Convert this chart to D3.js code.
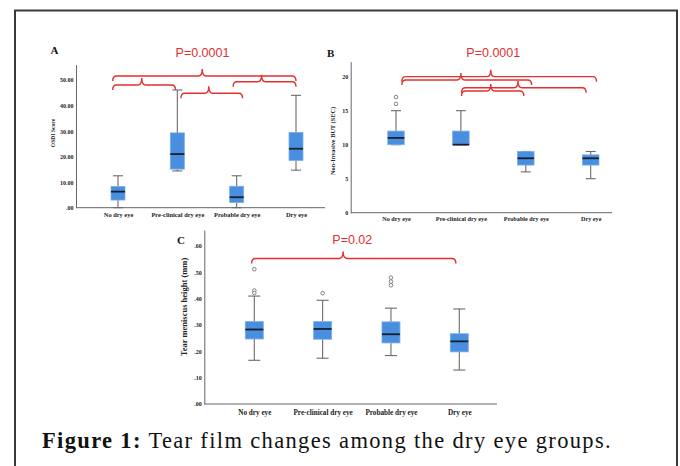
<!DOCTYPE html>
<html>
<head>
<meta charset="utf-8">
<script src="https://cdn.jsdelivr.net/npm/d3@7"></script>
<style>
  html, body { margin: 0; padding: 0; background: #fff; }
  svg { display: block; }
</style>
</head>
<body>
<svg id="chart" width="680" height="466"></svg>
<script>
// ---------------- DATA ----------------
const categories = ["No dry eye", "Pre-clinical dry eye", "Probable dry eye", "Dry eye"];

// Panel A – OSDI Score
const osdiMin    = [0.0, 14.4, 0.0, 14.7];
const osdiQ1     = [3.0, 15.1, 2.0, 18.5];
const osdiMedian = [6.3, 21.0, 4.1, 23.1];
const osdiQ3     = [8.3, 29.3, 8.4, 29.5];
const osdiMax    = [12.5, 46.1, 12.5, 44.0];
const osdiOutliers = [[], [], [], []];
const osdiTicks = [0, 10, 20, 30, 40, 50];
const osdiTickLabels = [".00", "10.00", "20.00", "30.00", "40.00", "50.00"];

// Panel B – Non-Invasive BUT (SEC)
const butMin    = [10, 10, 6, 5];
const butQ1     = [10, 10, 7, 7];
const butMedian = [11, 10, 8, 8];
const butQ3     = [12, 12, 9, 8.5];
const butMax    = [15, 15, 9, 9];
const butOutliers = [[16, 17], [], [], []];
const butTicks = [0, 5, 10, 15, 20];
const butTickLabels = ["0", "5", "10", "15", "20"];

// Panel C – Tear meniscus height (mm)
const tmhMin    = [0.166, 0.174, 0.184, 0.129];
const tmhQ1     = [0.247, 0.246, 0.232, 0.198];
const tmhMedian = [0.283, 0.285, 0.265, 0.238];
const tmhQ3     = [0.313, 0.313, 0.312, 0.267];
const tmhMax    = [0.410, 0.394, 0.364, 0.361];
const tmhOutliers = [[0.512, 0.431, 0.422], [0.421], [0.480, 0.465, 0.451], []];
const tmhTicks = [0, 0.1, 0.2, 0.3, 0.4, 0.5, 0.6];
const tmhTickLabels = [".00", ".10", ".20", ".30", ".40", ".50", ".60"];

// Significance braces: [from (category index), to, tip, level (axis units)]
const osdiBraces = [[-0.09, 3.0, 1.42, 51.6], [-0.09, 0.97, 0.40, 48.05], [1.06, 2.10, 1.53, 44.8], [1.94, 3.0, 2.42, 49.3]];
const butBraces  = [[0.09, 3.09, 1.46, 20.0], [0.09, 2.09, 1.0, 19.5], [1.01, 2.93, 1.88, 18.38], [1.01, 1.97, 1.46, 17.9]];
const tmhBraces  = [[-0.04, 2.95, 1.30, 0.553]];

const osdiP = "P=0.0001", butP = "P=0.0001", tmhP = "P=0.02";
const caption = ["Figure 1:", " Tear film changes among the dry eye groups."];

// ---------------- DRAW ----------------
const svg = d3.select("#chart");
svg.append("rect").attr("width", 680).attr("height", 466).attr("fill", "#fff");

// frame
svg.append("path")
  .attr("d", "M15,470 L15,10.5 L677,10.5 L677,470")
  .attr("fill", "none").attr("stroke", "#3a3a3a").attr("stroke-width", 2);

const RED = "#e3302f";
const SERIF = "'Liberation Serif', 'Times New Roman', serif";

function bracePath(x1, x2, xm, y, hEnd, hTip) {
  const r = 4;
  return `M${x1},${y + hEnd} Q${x1},${y} ${x1 + r},${y} L${xm - r},${y} Q${xm},${y} ${xm},${y - hTip}` +
         ` Q${xm},${y} ${xm + r},${y} L${x2 - r},${y} Q${x2},${y} ${x2},${y + hEnd}`;
}

function panel(cfg) {
  const g = svg.append("g");
  const x = d3.scalePoint().domain(categories).range(cfg.xRange);
  const xi = d3.scaleLinear().domain([0, categories.length - 1]).range(cfg.xRange);
  const y = d3.scaleLinear().domain(cfg.yDomain).range(cfg.yRange);

  // y axis
  const ya = g.append("g").attr("transform", `translate(${cfg.axisX},0)`)
    .call(d3.axisLeft(y).tickValues(cfg.ticks).tickFormat((d, i) => cfg.tickLabels[i])
      .tickSize(0).tickSizeOuter(0).tickPadding(2.5));
  ya.select(".domain").attr("stroke", "#666").attr("stroke-width", 1);
  ya.selectAll("text").attr("font-family", SERIF).attr("font-weight", "bold")
    .attr("font-size", cfg.tickFont).attr("fill", "#222");

  // x axis
  g.append("line").attr("x1", cfg.axisX).attr("x2", cfg.axisEnd)
    .attr("y1", y(0)).attr("y2", y(0)).attr("stroke", "#666").attr("stroke-width", 1);
  const xa = g.append("g").attr("transform", `translate(0,${y(0)})`)
    .call(d3.axisBottom(x).tickSize(0).tickPadding(cfg.xPad));
  xa.select(".domain").remove();
  xa.selectAll("text").attr("font-family", SERIF).attr("font-weight", "bold")
    .attr("font-size", cfg.xFont).attr("fill", "#222");

  // y label
  g.append("text")
    .attr("transform", `translate(${cfg.yLabelX},${cfg.yLabelY}) rotate(-90)`)
    .attr("text-anchor", "middle").attr("font-family", SERIF).attr("font-weight", "bold")
    .attr("font-size", cfg.yLabelFont).attr("fill", "#222").text(cfg.yLabel);

  // panel letter
  g.append("text").attr("x", cfg.letterX).attr("y", cfg.letterY)
    .attr("font-family", SERIF).attr("font-weight", "bold").attr("font-size", 11)
    .attr("fill", "#111").text(cfg.letter);

  // boxes
  const bw = cfg.boxW, cw = cfg.capW;
  categories.forEach((c, i) => {
    const cx = x(c);
    const bg = g.append("g");
    bg.append("line").attr("x1", cx).attr("x2", cx).attr("y1", y(cfg.max[i])).attr("y2", y(cfg.q3[i]))
      .attr("stroke", "#6b6b6b").attr("stroke-width", 1.1);
    bg.append("line").attr("x1", cx).attr("x2", cx).attr("y1", y(cfg.q1[i])).attr("y2", y(cfg.min[i]))
      .attr("stroke", "#6b6b6b").attr("stroke-width", 1.1);
    [cfg.max[i], cfg.min[i]].forEach(v => {
      bg.append("line").attr("x1", cx - cw / 2).attr("x2", cx + cw / 2).attr("y1", y(v)).attr("y2", y(v))
        .attr("stroke", "#6b6b6b").attr("stroke-width", 1.1);
    });
    bg.append("rect").attr("x", cx - bw / 2).attr("width", bw)
      .attr("y", y(cfg.q3[i])).attr("height", y(cfg.q1[i]) - y(cfg.q3[i]))
      .attr("fill", "#4a8fdf").attr("stroke", "#78aee9").attr("stroke-width", 0.8);
    bg.append("line").attr("x1", cx - bw / 2).attr("x2", cx + bw / 2)
      .attr("y1", y(cfg.median[i])).attr("y2", y(cfg.median[i]))
      .attr("stroke", "#15202e").attr("stroke-width", 1.8);
    cfg.outliers[i].forEach(v => {
      bg.append("circle").attr("cx", cx).attr("cy", y(v)).attr("r", 1.8)
        .attr("fill", "#fff").attr("stroke", "#777").attr("stroke-width", 0.9);
    });
  });

  // braces
  cfg.braces.forEach(b => {
    g.append("path").attr("d", bracePath(xi(b[0]), xi(b[1]), xi(b[2]), y(b[3]), 5, 7))
      .attr("fill", "none").attr("stroke", RED).attr("stroke-width", 1.4);
  });
  g.append("text").attr("x", cfg.pX).attr("y", cfg.pY).attr("text-anchor", "middle")
    .attr("font-family", "'Liberation Sans', Arial, sans-serif").attr("font-size", 12.5)
    .attr("fill", RED).text(cfg.pText);
}

panel({
  letter: "A", letterX: 50.5, letterY: 53.5,
  xRange: [118, 296], axisX: 76, axisEnd: 325,
  yDomain: [0, 56], yRange: [207.7, 64.7],
  ticks: osdiTicks, tickLabels: osdiTickLabels, tickFont: 6,
  xFont: 6.4, xPad: 5,
  yLabel: "OSDI Score", yLabelX: 55, yLabelY: 133, yLabelFont: 5.6,
  min: osdiMin, q1: osdiQ1, median: osdiMedian, q3: osdiQ3, max: osdiMax, outliers: osdiOutliers,
  boxW: 14, capW: 10,
  braces: osdiBraces, pText: osdiP, pX: 202.5, pY: 57.3
});

panel({
  letter: "B", letterX: 327, letterY: 57.3,
  xRange: [396, 590.7], axisX: 350.7, axisEnd: 612,
  yDomain: [0, 22.2], yRange: [212.7, 61.7],
  ticks: butTicks, tickLabels: butTickLabels, tickFont: 6,
  xFont: 6.2, xPad: 4,
  yLabel: "Non-Invasive BUT (SEC)", yLabelX: 335, yLabelY: 141, yLabelFont: 6.3,
  min: butMin, q1: butQ1, median: butMedian, q3: butQ3, max: butMax, outliers: butOutliers,
  boxW: 16.5, capW: 10,
  braces: butBraces, pText: butP, pX: 493.3, pY: 57.3
});

panel({
  letter: "C", letterX: 177, letterY: 244.3,
  xRange: [254.3, 459.3], axisX: 204.3, axisEnd: 497,
  yDomain: [0, 0.661], yRange: [404, 230],
  ticks: tmhTicks, tickLabels: tmhTickLabels, tickFont: 6,
  xFont: 7.2, xPad: 6,
  yLabel: "Tear meniscus height (mm)", yLabelX: 187, yLabelY: 307, yLabelFont: 8.5,
  min: tmhMin, q1: tmhQ1, median: tmhMedian, q3: tmhQ3, max: tmhMax, outliers: tmhOutliers,
  boxW: 18, capW: 12,
  braces: tmhBraces, pText: tmhP, pX: 352.3, pY: 244
});

// caption: fit to the reference width, mostly via font size
const cap = svg.append("text").attr("x", 42).attr("y", 448.3)
  .attr("font-family", SERIF).attr("font-size", 20).attr("fill", "#111");
cap.append("tspan").attr("font-weight", "bold").text(caption[0]);
cap.append("tspan").text(caption[1]);
const targetW = 570;
const w0 = cap.node().getComputedTextLength();
const fs = Math.min(22.5, 20 * targetW / w0);
cap.attr("font-size", fs);
const w1 = cap.node().getComputedTextLength();
const nChars = (caption[0] + caption[1]).length;
cap.attr("letter-spacing", Math.max(0, (targetW - w1) / nChars).toFixed(3));
</script>
</body>
</html>
